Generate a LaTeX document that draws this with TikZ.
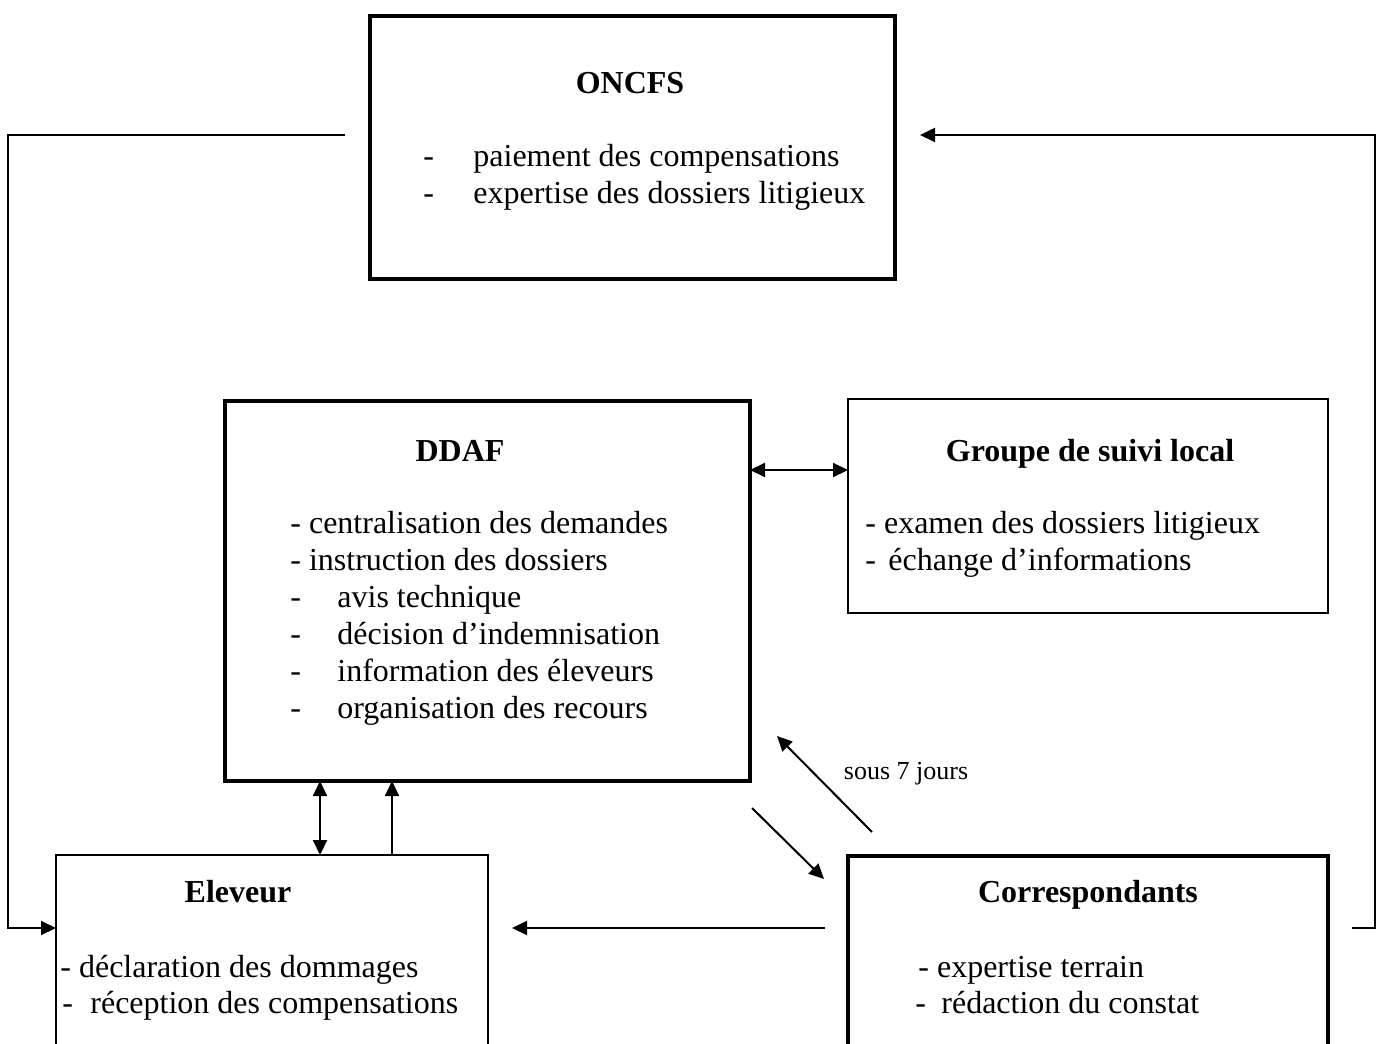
\documentclass[tikz,border=0pt]{standalone}
\usepackage{fontspec}
\setmainfont{Liberation Serif}
\usetikzlibrary{arrows.meta,calc}
\begin{document}
\begin{tikzpicture}[x=0.5pt,y=-0.5pt,
  box/.style={draw,line width=1pt,inner sep=0pt,outer sep=0pt},
  thickbox/.style={draw,line width=1.8pt,inner sep=0pt,outer sep=0pt},
  heavybox/.style={draw,line width=2.3pt,inner sep=0pt,outer sep=0pt},
  conn/.style={line width=1pt},
  tip/.tip={Triangle[length=7.5pt,width=7pt]},
  txt/.style={anchor=base west,inner sep=0pt,font=\fontsize{16}{19}\selectfont},
  ttl/.style={anchor=base,inner sep=0pt,font=\fontsize{16}{19}\selectfont\bfseries},
  small/.style={inner sep=0pt,font=\fontsize{13}{15}\selectfont}]
\useasboundingbox (0,0) rectangle (1384,1043);
\clip (0,0) rectangle (1384,1043);
\fill[white] (0,0) rectangle (1384,1043);

% boxes
\node[thickbox,minimum width=262.5pt,minimum height=131.5pt] (oncfs) at (632.5,147.5) {};
\node[heavybox,minimum width=262.5pt,minimum height=190pt] (ddaf) at (487.5,591) {};
\node[box,minimum width=240pt,minimum height=107pt] (groupe) at (1088,506) {};
\node[box,minimum width=216pt,minimum height=122.5pt] (eleveur) at (272,977.5) {};
\node[thickbox,minimum width=240pt,minimum height=122pt] (corr) at (1088,978) {};

% ONCFS text
\node[ttl] (t1) at (630,94) {ONCFS};
\node[txt] (o1d) at (423,167) {-};
\node[txt] (o1) at (473,167) {paiement des compensations};
\node[txt] (o2d) at (423,204) {-};
\node[txt] (o2) at (473,204) {expertise des dossiers litigieux};

% DDAF text
\node[ttl] (t2) at (460,461) {DDAF};
\node[txt] (d1) at (290,533) {- centralisation des demandes};
\node[txt] (d2) at (290,570) {- instruction des dossiers};
\node[txt] (d3d) at (290,607) {-};
\node[txt] (d3) at (337,607) {avis technique};
\node[txt] (d4d) at (290,644) {-};
\node[txt] (d4) at (337,644) {décision d’indemnisation};
\node[txt] (d5d) at (290,681) {-};
\node[txt] (d5) at (337,681) {information des éleveurs};
\node[txt] (d6d) at (290,718) {-};
\node[txt] (d6) at (337,718) {organisation des recours};

% Groupe text
\node[ttl] (t3) at (1090,461) {Groupe de suivi local};
\node[txt] (g1) at (865,533) {- examen des dossiers litigieux};
\node[txt] (g2d) at (865,570) {-};
\node[txt] (g2) at (888,570) {échange d’informations};

% Eleveur text
\node[ttl] (t4) at (238,902) {Eleveur};
\node[txt] (e1) at (60,977) {- déclaration des dommages};
\node[txt] (e2d) at (62,1013) {-};
\node[txt] (e2) at (90,1013) {réception des compensations};

% Correspondants text
\node[ttl] (t5) at (1088,902) {Correspondants};
\node[txt] (c1) at (918,977) {- expertise terrain};
\node[txt] (c2d) at (915,1013) {-};
\node[txt] (c2) at (941,1013) {rédaction du constat};

% helper coordinates
\coordinate (lstart) at (345,135);
\coordinate (lcorner) at (8,928);
\coordinate (rstart) at (1352,928);
\coordinate (rcorner) at (1375,135);
\coordinate (rend) at (920,135);
\coordinate (y470) at (0,470);
\coordinate (x320) at (320,0);
\coordinate (x392) at (392,0);
\coordinate (cefrom) at (825,928);
\coordinate (ceto) at (512,928);
\coordinate (dnfrom) at (752,808);
\coordinate (dnto) at (824,879);
\coordinate (upfrom) at (872,832);
\coordinate (upto) at (777,736);

% connectors
\draw[conn,-tip] (lstart) -| (lcorner) -- (eleveur.west |- lcorner);
\draw[conn,-tip] (rstart) -| (rcorner) -- (rend);
\draw[conn,tip-tip] (ddaf.east |- y470) -- (groupe.west |- y470);
\draw[conn,tip-tip] (eleveur.north -| x320) -- (ddaf.south -| x320);
\draw[conn,-tip] (eleveur.north -| x392) -- (ddaf.south -| x392);
\draw[conn,-tip] (cefrom) -- (ceto);
\draw[conn,-tip] (dnfrom) -- (dnto);
\draw[conn,-tip] (upfrom) -- (upto);
\node[small] (lbl) at (906,774) {sous 7 jours};
\end{tikzpicture}
\end{document}
